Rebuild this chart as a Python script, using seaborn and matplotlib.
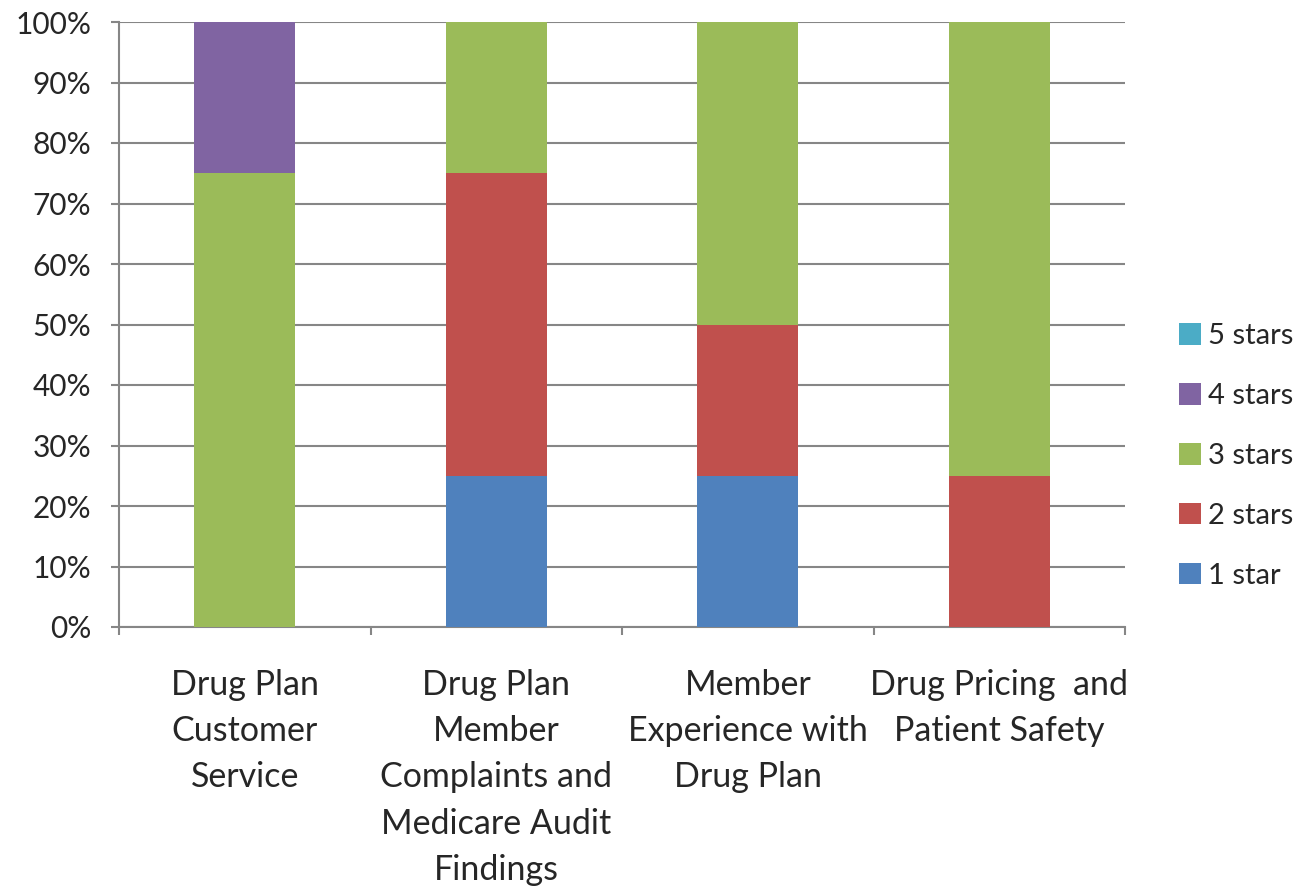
import matplotlib
matplotlib.use("Agg")
import matplotlib.pyplot as plt
import seaborn as sns
import pandas as pd
import numpy as np
from matplotlib.patches import Patch

categories = [
    "Drug Plan\nCustomer\nService",
    "Drug Plan\nMember\nComplaints and\nMedicare Audit\nFindings",
    "Member\nExperience with\nDrug Plan",
    "Drug Pricing  and\nPatient Safety",
]
series = ["1 star", "2 stars", "3 stars", "4 stars", "5 stars"]
one_star = [0, 25, 25, 0]
two_stars = [0, 50, 25, 25]
three_stars = [75, 25, 50, 75]
four_stars = [25, 0, 0, 0]
five_stars = [0, 0, 0, 0]
colors = ["#4F81BD", "#C0504D", "#9BBB59", "#8064A2", "#4BACC6"]

values = [one_star, two_stars, three_stars, four_stars, five_stars]
df = pd.DataFrame({
    "category": list(range(len(categories))) * len(series),
    "series": np.repeat(series, len(categories)),
    "value": np.concatenate(values),
})

sns.set_theme(style="white")
plt.rcParams["font.family"] = ["Lato", "DejaVu Sans"]

fig = plt.figure(figsize=(12.98, 8.86), dpi=100)
ax = fig.add_axes([119 / 1298, 1 - 627 / 886, (1125 - 119) / 1298, (627 - 22) / 886])

grid_color = "#868686"
bottom = np.zeros(len(categories))
for name, color in zip(series, colors):
    sub = df[df["series"] == name].sort_values("category")
    vals = sub["value"].to_numpy()
    sns.barplot(x=sub["category"].to_numpy(), y=vals, ax=ax, color=color,
                width=0.4, bottom=bottom, saturation=1, native_scale=True,
                linewidth=0, zorder=3)
    bottom = bottom + vals

ax.set_xlim(-0.5, len(categories) - 0.5)
ax.set_ylim(0, 100)
ax.set_yticks(np.arange(0, 101, 10))
ax.set_yticklabels([f"{v}%" for v in range(0, 101, 10)], fontsize=21.5)
ax.yaxis.grid(True, color=grid_color, linewidth=1.5, zorder=0)
ax.set_axisbelow(True)

ax.set_xticks(np.arange(-0.5, len(categories)), minor=False)
ax.set_xticklabels([])
ax.set_xticks(np.arange(len(categories)), minor=True)
ax.set_xticklabels(categories, minor=True, fontsize=24.5, linespacing=1.55, va="top")
ax.tick_params(axis="x", which="minor", length=0, pad=30)
ax.tick_params(axis="x", which="major", length=6, width=1.5, color=grid_color, direction="out", bottom=True)
ax.tick_params(axis="y", length=6, width=1.5, color=grid_color, direction="out", left=True, pad=14)
ax.set_xlabel("")
ax.set_ylabel("")

for side in ["top", "right"]:
    ax.spines[side].set_visible(False)
for side in ["left", "bottom"]:
    ax.spines[side].set_color(grid_color)
    ax.spines[side].set_linewidth(1.5)

handles = [Patch(facecolor=c, edgecolor="none") for c in colors][::-1]
labels = series[::-1]
fig.legend(handles, labels, loc="center left", bbox_to_anchor=(1179 / 1298, 1 - 456 / 886),
           frameon=False, fontsize=21, handlelength=0.75, handleheight=0.75,
           labelspacing=1.16, handletextpad=0.25, borderpad=0, borderaxespad=0)

fig.savefig("out.png", dpi=100)
